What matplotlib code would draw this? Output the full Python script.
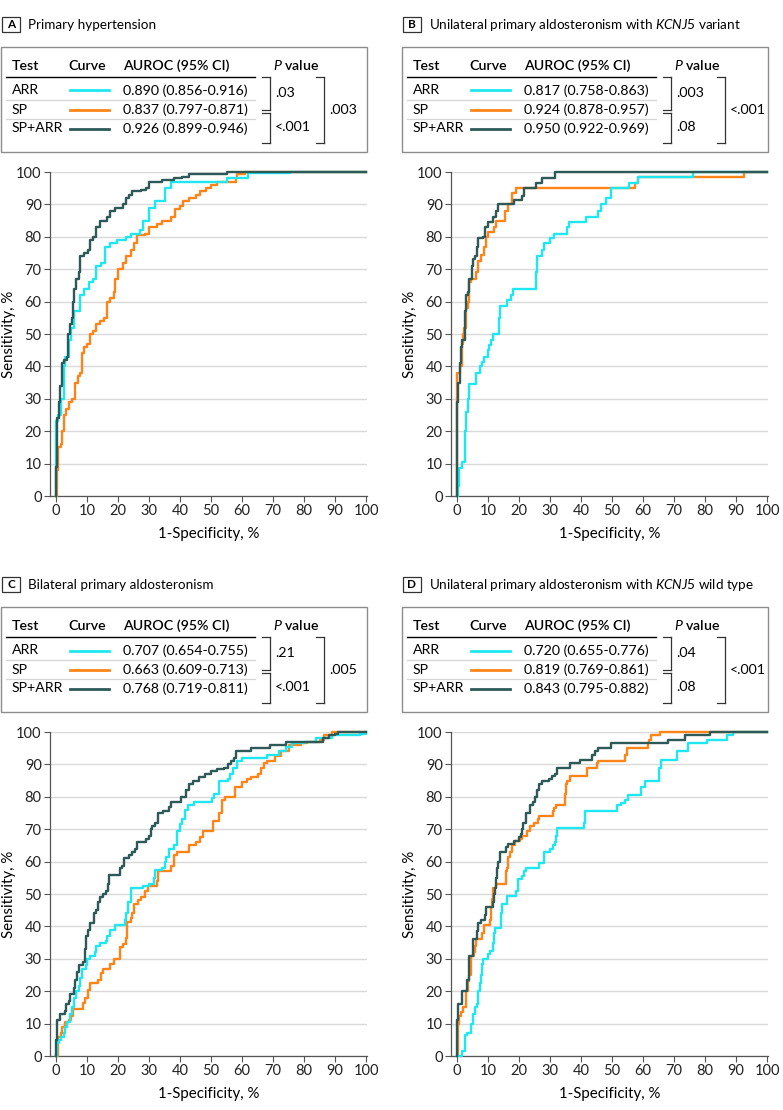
import matplotlib
matplotlib.use('Agg')
import matplotlib.pyplot as plt
from matplotlib.patches import Rectangle
from matplotlib.lines import Line2D

plt.rcParams['font.family'] = ['Lato', 'DejaVu Sans']
plt.rcParams['mathtext.fontset'] = 'custom'
plt.rcParams['mathtext.rm'] = 'Lato'
plt.rcParams['mathtext.it'] = 'Lato:italic'
plt.rcParams['mathtext.bf'] = 'Lato:bold'

# ---- data: (1-specificity %, sensitivity %) step corners ----
a_arr = [(0,0),(0,23),(0.5,25),(1.5,30),(2.5,40),(3,43),(4,48),(4.8,52),(5.7,57),(7.3,57),(7.8,62),
         (9,64),(10.5,66),(12,67),(12.8,71),(14.5,72),(15.8,77),(17.5,78),(19.5,79),(22.5,80),(24,81),
         (27,82),(28,85),(30,89),(32,91),(35,95),(37,97),(55,98),(62,99.6),(75.5,100),(100,100)]
a_sp = [(0,0),(0.3,8),(0.7,15),(1.5,16),(1.8,20),(2.5,25),(3.2,27),(4,29),(5,30),(6,35),(7,37),(7.8,38),
        (8.2,44),(9,46),(10,47),(10.8,50),(11.8,51),(12.8,53),(14,54),(15.5,55),(16.3,60),(17.5,61),
        (18.5,63),(19,67),(20,70),(21.5,72),(22.5,74),(24,76),(25,78),(26,80.5),(28.5,81),(30,83),
        (32.5,84),(34,85),(37,86),(38.5,88.5),(40,89.5),(41,91),(43,92),(45,93),(46.5,94),(48.5,95),
        (50,96),(52,97),(57,97),(58,98),(58.5,99.5),(61,100),(100,100)]
a_sparr = [(0,0),(0,9),(0.3,24),(0.75,29),(1.2,30),(1.3,34),(1.8,41),(2.5,42),(3.5,43),(3.7,50),(4.3,53),
           (5,55),(5.3,60),(5.8,64),(6.5,67),(7.3,69),(7.7,74),(9,75),(10.3,76),(10.8,79),(12,80),
           (12.8,83),(14.2,85),(16.5,86),(17.5,88),(19,89),(21.5,90),(22.5,92),(23.5,93),(24.5,94),
           (27.5,94.5),(29,95),(30,97),(34,97.5),(38,98),(40.5,98.5),(43,99.5),(55,100),(100,100)]

b_arr = [(0,0),(0.3,3),(0.5,8.5),(1.5,10.5),(2.5,20),(2.7,24),(3,26),(3.5,30),(3.8,34.5),(6,38),(7.5,40),
         (8,41.5),(8.5,43),(10,45),(10.3,46.5),(11,48),(11.5,50),(13.5,55),(13.7,58.5),(16,60.5),
         (17.5,62),(18,64),(25.5,69),(25.6,74),(27.5,76),(28,78),(29.8,79.5),(31.3,81),(35.5,83),
         (36,84.5),(41.5,86),(45.5,88),(46.5,90),(48,92),(49.5,95),(55.5,96.5),(58.5,98.5),(76,100),(100,100)]
b_sp = [(0,0),(0,38),(1,40),(1.5,47),(2,50),(2.3,52),(3,58),(3.5,60),(3.8,66),(4.3,67),(6,69),(6.8,72.5),
        (7.8,74.5),(8.8,77),(9.3,80),(9.8,81.5),(12,83),(12.5,85),(15.5,88),(16.5,90),(17.8,93.5),
        (19,95),(57.5,96.5),(58.5,98.5),(92.5,100),(100,100)]
b_sparr = [(0,0),(0,29),(0.3,35),(0.8,41),(1.2,46),(1.5,48),(2.6,57),(2.8,62),(3.5,63),(3.8,67),(4.7,68),
           (4.8,71),(5.2,73),(5.6,74),(6.5,77),(6.8,79.5),(8.3,80),(9,83),(10,84.5),(11.6,86),(12.6,88),
           (13.3,90),(18.3,91.5),(21,92.5),(21.5,95),(25.5,96.5),(27.5,98.3),(31.5,100),(100,100)]

c_arr = [(0,0),(0.3,4),(1,5),(1.5,6),(2.5,7),(3,9),(3.5,10.5),(4.5,13),(5.2,15),(5.8,18),(6.5,20),
         (7.2,21.5),(7.6,24),(8.2,27),(9.5,28),(10,30),(10.8,31),(12.5,32),(13,34),(14,35),(16,35.5),
         (16.5,37),(17.5,39),(19,40.5),(22.2,42),(22.5,44),(23.2,47.5),(24.2,52),(28,52.5),(30,53),
         (31.5,55),(32,57.5),(34,58),(35,60),(35.5,61.5),(36.5,64),(38,65),(39,69.5),(39.8,71.5),
         (40.5,73),(41.5,76),(42.5,77.5),(44.5,78.5),(50.2,79.5),(51,81),(52.5,85),(55.5,85.5),(56,87),
         (57,89),(58.5,91),(60,92),(68,93),(72,94),(74,95.5),(76,96.5),(80,97),(84,98),(89,99),
         (98,99.5),(100,100)]
c_sp = [(0,0),(0.5,6),(1.5,7),(2,9),(3,10.5),(4,11),(4.8,12.5),(5.5,14.5),(8.5,16.5),(9.3,18),(10.2,20.5),
        (11,22.5),(13.5,23.5),(14.5,25.5),(15,27),(17.5,28.5),(18.5,30),(20.5,33.5),(21.5,34.5),
        (22.5,36.5),(23,41.5),(24,42.5),(24.5,44),(25,47),(26.5,48),(27.5,49),(28.5,51),(29.5,52.5),
        (32.5,54),(33,57),(37,58.5),(38,62),(39,63),(43,65),(45,66),(46.5,67.5),(47.5,69.5),(50.5,72.5),
        (52.5,75),(53.5,79),(54.5,80),(57.7,83),(60,84.5),(61.5,85.5),(63,86),(65,87),(66,89),(67,90.5),
        (68,91),(70.5,92.5),(72.5,94),(75,96),(79,96.5),(81,97),(85,97.5),(86.5,99),(89,100),(100,100)]
c_sparr = [(0,0),(0,5),(0.3,11),(1.3,13),(2.8,14),(3.3,16),(4,17),(4.6,19),(5.8,21),(6.2,23.5),(6.7,26),
           (7.2,28),(8.5,29),(9.2,31),(9.4,33),(9.7,37),(10.4,39),(10.8,41),(12.2,44),(12.8,45),
           (13.5,47.5),(14.2,49),(15,50),(16,51),(16.8,53),(17,56),(20.5,58),(21.3,58.5),(22,61),
           (23.5,62),(24.5,63),(25.5,64),(26.2,66),(29,67),(30,68),(30.5,70),(31,71),(32,72),(33,75),
           (34.5,75.5),(36.3,77),(37,78.5),(40.3,80),(42,82),(43,84),(44,85),(46,86),(48,87),(50,88),
           (52,88.5),(54,89),(55.5,90),(56.5,91),(57.5,92),(58,94),(63,95),(69,96),(74,97),(86,98),
           (88,99),(90,99.5),(91,100),(100,100)]

d_arr = [(0,0),(1.5,1.5),(2.5,6.5),(3.2,7),(4.3,8),(4.6,10),(5.2,13),(5.8,15),(6.3,16),(6.7,20),(7.2,22.5),
         (7.6,25),(8,28.5),(8.2,30),(10,31.5),(10.5,32.5),(11.6,35),(12,38),(12.3,39.5),(14,41),(14.2,44),
         (14.5,47),(16,49.5),(19,51),(19.5,54.5),(20.8,55.5),(21.5,57),(22.3,58),(26.5,59.5),(28,63),
         (30,64),(31,65),(31.7,66),(32,68),(32.3,70.5),(40.8,72),(41.2,75.5),(51.5,77.5),(53,78),(54,79),
         (55,80.5),(59.2,83),(60.5,85),(65.2,89),(65.8,91.5),(71,94),(74.5,96.5),(80.5,97.5),(87,99),
         (89,100),(100,100)]
d_sp = [(0,0),(0.2,10),(0.5,12.5),(1.2,13.5),(2,15),(2.7,20),(3.5,23),(3.8,25),(4.3,31),(5.3,32),(5.6,34),
        (6,36),(8,38),(8.7,40.5),(10.5,42),(10.8,46),(11.2,48.5),(11.6,52),(12.4,53),(15.7,57),(16.2,58),
        (16.5,61.5),(17,63),(17.8,65),(18.7,66.5),(20.3,67),(21,68),(22.5,69.5),(23.5,71),(24.8,72),
        (26,73),(26.5,74),(31,75.5),(31.3,76.5),(32,77.5),(34.8,81),(35,84),(35.5,85),(36.5,86.5),
        (41.8,89),(45,90.5),(45.5,91),(54.2,93),(54.7,95),(61.5,96.5),(62,97.5),(62.5,99),(65.5,100),(100,100)]
d_sparr = [(0,0),(0,11),(0.3,16),(1.5,20),(3.2,23.5),(3.8,31),(5.2,36),(6.3,38.5),(6.7,41),(7.7,42),(9,43.5),
           (9.2,46),(11.4,47.5),(11.8,50),(12.2,52),(12.5,55),(13,58),(13.3,60),(13.9,63),(15.6,64.5),
           (16.5,65.5),(18.2,66.5),(20,67.5),(20.5,68.5),(21,70),(21.3,72),(22.3,75),(23.5,77.5),
           (24.5,78.5),(25,80),(25.8,82),(26.5,84),(27.5,85),(29.5,85.5),(30.5,86.5),(31.5,87),(32.3,89),
           (36.5,90.5),(39.5,91.5),(43.5,93),(44.5,94),(45.5,95),(49.5,96.5),(68,97.5),(73.5,99),
           (81.5,100),(100,100)]

letters = ['A', 'B', 'C', 'D']
titles = ['Primary hypertension',
          r'Unilateral primary aldosteronism with $\it{KCNJ5}$ variant',
          'Bilateral primary aldosteronism',
          r'Unilateral primary aldosteronism with $\it{KCNJ5}$ wild type']
tests = ['ARR', 'SP', 'SP+ARR']
auroc = [['0.890 (0.856-0.916)', '0.837 (0.797-0.871)', '0.926 (0.899-0.946)'],
         ['0.817 (0.758-0.863)', '0.924 (0.878-0.957)', '0.950 (0.922-0.969)'],
         ['0.707 (0.654-0.755)', '0.663 (0.609-0.713)', '0.768 (0.719-0.811)'],
         ['0.720 (0.655-0.776)', '0.819 (0.769-0.861)', '0.843 (0.795-0.882)']]
p_arr_sp = ['.03', '.003', '.21', '.04']
p_sp_both = ['<.001', '.08', '<.001', '.08']
p_arr_both = ['.003', '<.001', '.005', '<.001']
curves = [[a_arr, a_sp, a_sparr], [b_arr, b_sp, b_sparr],
          [c_arr, c_sp, c_sparr], [d_arr, d_sp, d_sparr]]

colors = ['#1de8f2', '#ff8417', '#2d5a58']
zorders = [4, 3, 5]  # orange below cyan, dark on top
offsets = [(0, 0), (401, 0), (0, 560), (401, 560)]

W, H = 783, 1110
fig = plt.figure(figsize=(W / 100, H / 100), dpi=100)


def X(px):
    return px / W


def Y(py):
    return 1 - py / H


def hline(x0, x1, y, color='black', lw=1.0):
    fig.add_artist(Line2D([X(x0), X(x1)], [Y(y), Y(y)], transform=fig.transFigure, color=color, lw=lw))


def vline(x, y0, y1, color='black', lw=1.0):
    fig.add_artist(Line2D([X(x), X(x)], [Y(y0), Y(y1)], transform=fig.transFigure, color=color, lw=lw))


def bracket(x, y0, y1, tick=8, color='#333333'):
    vline(x, y0, y1, color=color, lw=0.9)
    hline(x - tick, x, y0, color=color, lw=0.9)
    hline(x - tick, x, y1, color=color, lw=0.9)


fs = 10.2
for i in range(4):
    ox, oy = offsets[i]
    # panel letter and title
    fig.add_artist(Rectangle((X(ox + 2), Y(oy + 32)), 18 / W, 15 / H, transform=fig.transFigure,
                             fill=False, ec='#333333', lw=0.9))
    fig.text(X(ox + 11), Y(oy + 24.5), letters[i], ha='center', va='center', fontsize=8.5, fontweight='bold')
    fig.text(X(ox + 28), Y(oy + 29), titles[i], ha='left', va='baseline', fontsize=9.7)

    # table box
    fig.add_artist(Rectangle((X(ox + 1), Y(oy + 152)), 366 / W, 105 / H, transform=fig.transFigure,
                             fill=False, ec='#8c8c8c', lw=1.0))
    hy = oy + 69.5
    fig.text(X(ox + 12), Y(hy), 'Test', ha='left', va='baseline', fontsize=fs, fontweight='semibold')
    fig.text(X(ox + 68), Y(hy), 'Curve', ha='left', va='baseline', fontsize=fs, fontweight='semibold')
    fig.text(X(ox + 123), Y(hy), 'AUROC (95% CI)', ha='left', va='baseline', fontsize=fs, fontweight='semibold')
    fig.text(X(ox + 273), Y(hy), r'$\it{P}$ value', ha='left', va='baseline', fontsize=fs, fontweight='semibold')
    hline(ox + 6, ox + 255, oy + 76.5, color='black', lw=1.0)
    for y in (100, 119):
        hline(ox + 6, ox + 255, oy + y, color='#d6d6d6', lw=0.9)
    rows_y = [90.5, 110, 128.5]
    for j in range(3):
        ry = oy + rows_y[j]
        fig.text(X(ox + 12), Y(ry), tests[j], ha='left', va='center', fontsize=fs)
        hline(ox + 70, ox + 109, ry, color=colors[j], lw=2.0)
        fig.text(X(ox + 123), Y(ry), auroc[i][j], ha='left', va='center', fontsize=fs)
    # p value brackets
    bracket(ox + 270, oy + 76.5, oy + 109.5)
    bracket(ox + 270, oy + 112.5, oy + 143)
    bracket(ox + 324, oy + 76.5, oy + 143)
    fig.text(X(ox + 275), Y(oy + 93), p_arr_sp[i], ha='left', va='center', fontsize=fs)
    fig.text(X(ox + 275), Y(oy + 127), p_sp_both[i], ha='left', va='center', fontsize=fs)
    fig.text(X(ox + 329), Y(oy + 110), p_arr_both[i], ha='left', va='center', fontsize=fs)

    # ROC axes
    ax = fig.add_axes([X(ox + 50), Y(oy + 496), 317 / W, 324 / H])
    for j in range(3):
        xs = [p[0] for p in curves[i][j]]
        ys = [p[1] for p in curves[i][j]]
        ax.step(xs, ys, where='post', color=colors[j], lw=1.7, clip_on=False, zorder=zorders[j])
    ax.set_xlim(-2, 100.3)
    ax.set_ylim(0, 100)
    ax.set_xticks(range(0, 101, 10))
    ax.set_yticks(range(0, 101, 10))
    ax.yaxis.grid(True, color='#d9d9d9', lw=1.0)
    ax.set_axisbelow(True)
    for s in ('top', 'right'):
        ax.spines[s].set_visible(False)
    for s in ('left', 'bottom'):
        ax.spines[s].set_color('#555555')
        ax.spines[s].set_linewidth(0.9)
    ax.tick_params(length=4, width=0.8, color='#555555', labelcolor='#222222', labelsize=10.5, pad=2)
    ax.set_xlabel('1-Specificity, %', fontsize=10.8, labelpad=6.5)
    ax.set_ylabel('Sensitivity, %', fontsize=10.8, va='center')
    ax.yaxis.set_label_coords((9 - 50) / 317, 0.5)

fig.savefig('out.png', dpi=100)
